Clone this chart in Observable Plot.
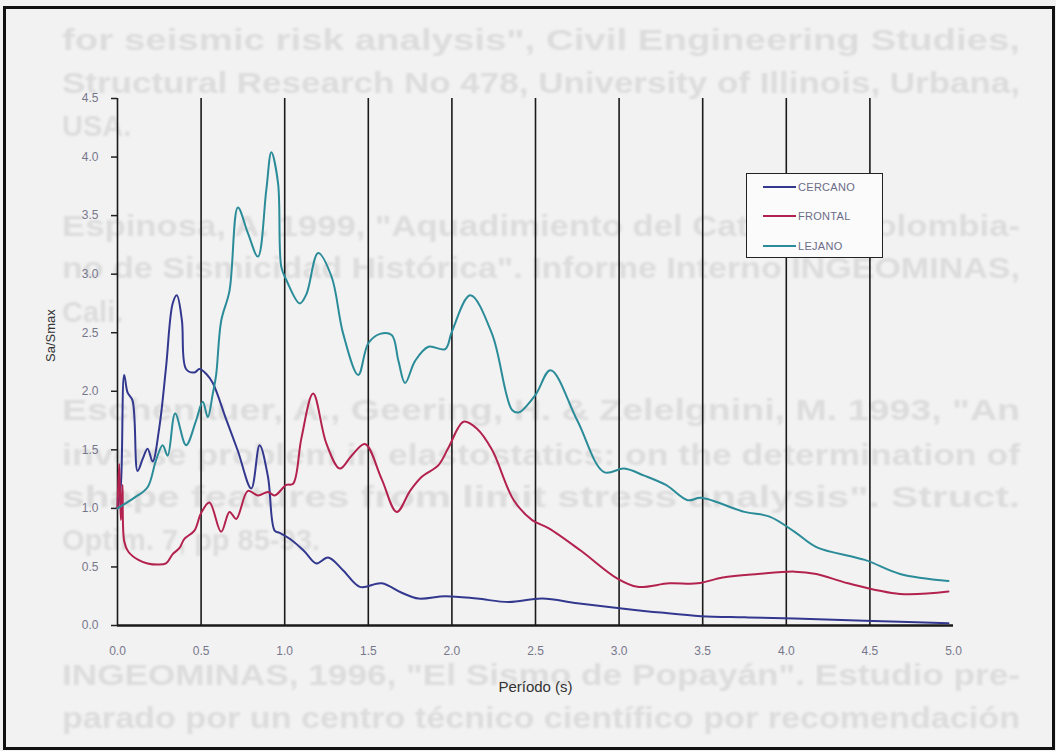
<!DOCTYPE html>
<html><head><meta charset="utf-8">
<script src="https://cdn.jsdelivr.net/npm/d3@7"></script>
<script src="https://cdn.jsdelivr.net/npm/@observablehq/plot@0.6"></script>
<style>
body{margin:0;background:#ffffff;}
#wrap{position:relative;width:1056px;height:751px;background:#f2f2f2;overflow:hidden;font-family:"Liberation Sans",Arial,sans-serif;}
#ghost{position:absolute;left:0;top:0;width:1056px;height:751px;filter:blur(0.9px);}
#ghost div{position:absolute;left:62px;font-weight:bold;font-size:29px;color:#dcdcdc;white-space:nowrap;transform-origin:0 50%;line-height:34px;}
#chart{position:absolute;left:0;top:0;}
#frame{position:absolute;left:3px;top:6px;width:1046px;height:738px;border:3px solid #111;pointer-events:none;}
#legend{position:absolute;left:746px;top:173px;width:135px;height:83px;border:1.5px solid #222;background:#fbfbfb;}
#legend .row{position:absolute;left:0;height:14px;}
#legend .sw{position:absolute;left:16px;top:6px;width:33px;height:2px;}
#legend .lb{position:absolute;left:51px;top:0;font-size:11px;color:#6c6c88;letter-spacing:0.3px;line-height:14px;}
</style></head>
<body>
<div id="wrap">
  <div id="ghost"></div>
  <div id="chart"></div>
  <div id="legend"></div>
  <div id="frame"></div>
</div>
<script>
// ---- data ----
const seriesNames = ["CERCANO", "FRONTAL", "LEJANO"];
const seriesColors = ["#33388f", "#b3224f", "#2b8c99"];

const cercanoX = [0, 0.02, 0.04, 0.06, 0.09, 0.12, 0.15, 0.18, 0.21, 0.25, 0.29, 0.33, 0.355, 0.385, 0.41, 0.46, 0.49, 0.53, 0.57, 0.65, 0.72, 0.8, 0.85, 0.9, 0.94, 0.97, 1.05, 1.12, 1.19, 1.26, 1.35, 1.45, 1.58, 1.7, 1.8, 1.96, 2.15, 2.34, 2.54, 2.75, 2.99, 3.25, 3.49, 3.75, 4.05, 4.47, 4.97];
const cercanoY = [1.0, 1.2, 2.14, 1.99, 1.92, 1.32, 1.42, 1.51, 1.4, 1.69, 2.2, 2.75, 2.82, 2.61, 2.19, 2.16, 2.19, 2.15, 2.07, 1.76, 1.49, 1.17, 1.54, 1.27, 0.81, 0.79, 0.72, 0.63, 0.53, 0.58, 0.47, 0.33, 0.36, 0.28, 0.23, 0.25, 0.23, 0.2, 0.23, 0.19, 0.15, 0.11, 0.08, 0.07, 0.06, 0.04, 0.02];

const frontalX = [0, 0.01, 0.02, 0.03, 0.04, 0.065, 0.125, 0.18, 0.24, 0.29, 0.33, 0.37, 0.4, 0.46, 0.5, 0.55, 0.62, 0.67, 0.71, 0.78, 0.84, 0.9, 0.94, 1.01, 1.05, 1.1, 1.17, 1.25, 1.33, 1.4, 1.48, 1.58, 1.67, 1.75, 1.82, 1.92, 1.98, 2.07, 2.15, 2.24, 2.37, 2.48, 2.58, 2.77, 2.99, 3.11, 3.3, 3.47, 3.62, 3.83, 4.05, 4.18, 4.37, 4.68, 4.97];
const frontalY = [1.0, 1.38, 0.9, 1.2, 0.72, 0.63, 0.56, 0.53, 0.52, 0.53, 0.61, 0.66, 0.74, 0.81, 0.96, 1.05, 0.8, 0.97, 0.91, 1.15, 1.11, 1.14, 1.11, 1.2, 1.21, 1.6, 1.98, 1.55, 1.34, 1.45, 1.55, 1.25, 0.97, 1.15, 1.27, 1.37, 1.52, 1.74, 1.68, 1.5, 1.07, 0.9, 0.83, 0.64, 0.4, 0.33, 0.36, 0.36, 0.41, 0.44, 0.46, 0.44, 0.36, 0.27, 0.29];

const lejanoX = [0, 0.11, 0.18, 0.23, 0.27, 0.3, 0.345, 0.41, 0.47, 0.51, 0.54, 0.57, 0.59, 0.62, 0.67, 0.72, 0.78, 0.84, 0.89, 0.92, 0.96, 0.98, 1.01, 1.09, 1.13, 1.2, 1.28, 1.35, 1.44, 1.5, 1.57, 1.64, 1.68, 1.72, 1.78, 1.86, 1.96, 2.0, 2.11, 2.24, 2.36, 2.4, 2.5, 2.59, 2.75, 2.91, 3.03, 3.15, 3.28, 3.41, 3.49, 3.75, 3.9, 4.05, 4.18, 4.47, 4.68, 4.97];
const lejanoY = [1.0, 1.1, 1.18, 1.41, 1.54, 1.45, 1.81, 1.54, 1.75, 1.91, 1.78, 1.98, 2.14, 2.6, 2.86, 3.57, 3.35, 3.15, 3.72, 4.04, 3.78, 3.06, 2.95, 2.75, 2.83, 3.18, 2.98, 2.49, 2.14, 2.41, 2.49, 2.48, 2.26, 2.07, 2.26, 2.38, 2.36, 2.51, 2.82, 2.49, 1.84, 1.82, 1.97, 2.18, 1.75, 1.31, 1.34, 1.28, 1.2, 1.07, 1.09, 0.97, 0.93, 0.8, 0.67, 0.56, 0.44, 0.38];

const xTicks = [0, 0.5, 1, 1.5, 2, 2.5, 3, 3.5, 4, 4.5, 5];
const yTicks = [0, 0.5, 1, 1.5, 2, 2.5, 3, 3.5, 4, 4.5];
const gridX = [0, 0.5, 1, 1.5, 2, 2.5, 3, 3.5, 4, 4.5];
const xTitle = "Período (s)";
const yTitle = "Sa/Smax";

const ghostLines = [
  "for seismic risk analysis\", Civil Engineering Studies,",
  "Structural Research No 478, University of Illinois, Urbana,",
  "USA.",
  "Espinosa, A. 1999, \"Aquadimiento del Catálogo Colombia-",
  "no de Sismicidad Histórica\". Informe Interno INGEOMINAS,",
  "Cali.",
  "Eschenauer, A., Geering, H. & Zelelgnini, M. 1993, \"An",
  "inverse problem in elastostatics: on the determination of",
  "shape features from limit stress analysis\". Struct.",
  "Optim. 7, pp 85-93.",
  "INGEOMINAS, 1996, \"El Sismo de Popayán\". Estudio pre-",
  "parado por un centro técnico científico por recomendación"
];
const ghostCenters = [40, 83, 126, 226, 268, 312, 410, 455, 497, 540, 675, 718];
const ghostFull = [true, true, false, true, true, false, true, true, true, false, true, true];

// ---- background bleed-through text ----
const ghost = document.getElementById("ghost");
ghostLines.forEach((t, i) => {
  const d = document.createElement("div");
  d.textContent = t;
  d.style.top = (ghostCenters[i] - 17) + "px";
  ghost.appendChild(d);
  if (ghostFull[i]) {
    const w = d.getBoundingClientRect().width;
    d.style.transform = `scaleX(${958 / w})`;
  }
});

// ---- chart ----
const data = [];
[[cercanoX, cercanoY], [frontalX, frontalY], [lejanoX, lejanoY]].forEach(([xs, ys], k) => {
  xs.forEach((x, i) => data.push({series: seriesNames[k], x, y: ys[i]}));
});

const fmt = d3.format(".1f");
const chart = Plot.plot({
  width: 1056,
  height: 751,
  marginLeft: 117,
  marginRight: 103,
  marginTop: 98,
  marginBottom: 126,
  style: {background: "transparent", fontFamily: "Liberation Sans, Arial, sans-serif", fontSize: "12px"},
  x: {domain: [0, 5]},
  y: {domain: [0, 4.5]},
  color: {domain: seriesNames, range: seriesColors},
  marks: [
    Plot.axisY({ticks: yTicks, tickSize: 6, tickPadding: 13, tickFormat: fmt, label: null, fill: "#77778c", stroke: "#222", strokeWidth: 1.5, fontSize: 12}),
    Plot.axisX({ticks: xTicks, tickSize: 0, tickPadding: 21, tickFormat: fmt, label: null, fill: "#77778c", fontSize: 12}),
    Plot.ruleX(gridX, {y1: 0, y2: 4.5, stroke: "#1a1a1a", strokeWidth: 1.6}),
    Plot.ruleY([0], {stroke: "#1a1a1a", strokeWidth: 2.5}),
    Plot.line(data, {x: "x", y: "y", z: "series", stroke: "series", strokeWidth: 2, curve: "catmull-rom"}),
    Plot.text([xTitle], {frameAnchor: "bottom", dy: 66, text: d => d, fontSize: 15, fill: "#333"}),
    Plot.text([yTitle], {frameAnchor: "left", dx: -67, rotate: -90, text: d => d, fontSize: 13, fill: "#333"})
  ]
});
document.getElementById("chart").appendChild(chart);

// ---- legend ----
const legend = document.getElementById("legend");
const rowTops = [6, 35, 65];
seriesNames.forEach((name, i) => {
  const r = document.createElement("div");
  r.className = "row";
  r.style.top = rowTops[i] + "px";
  r.innerHTML = `<div class="sw" style="background:${seriesColors[i]}"></div><div class="lb">${name}</div>`;
  legend.appendChild(r);
});
</script>
</body></html>
